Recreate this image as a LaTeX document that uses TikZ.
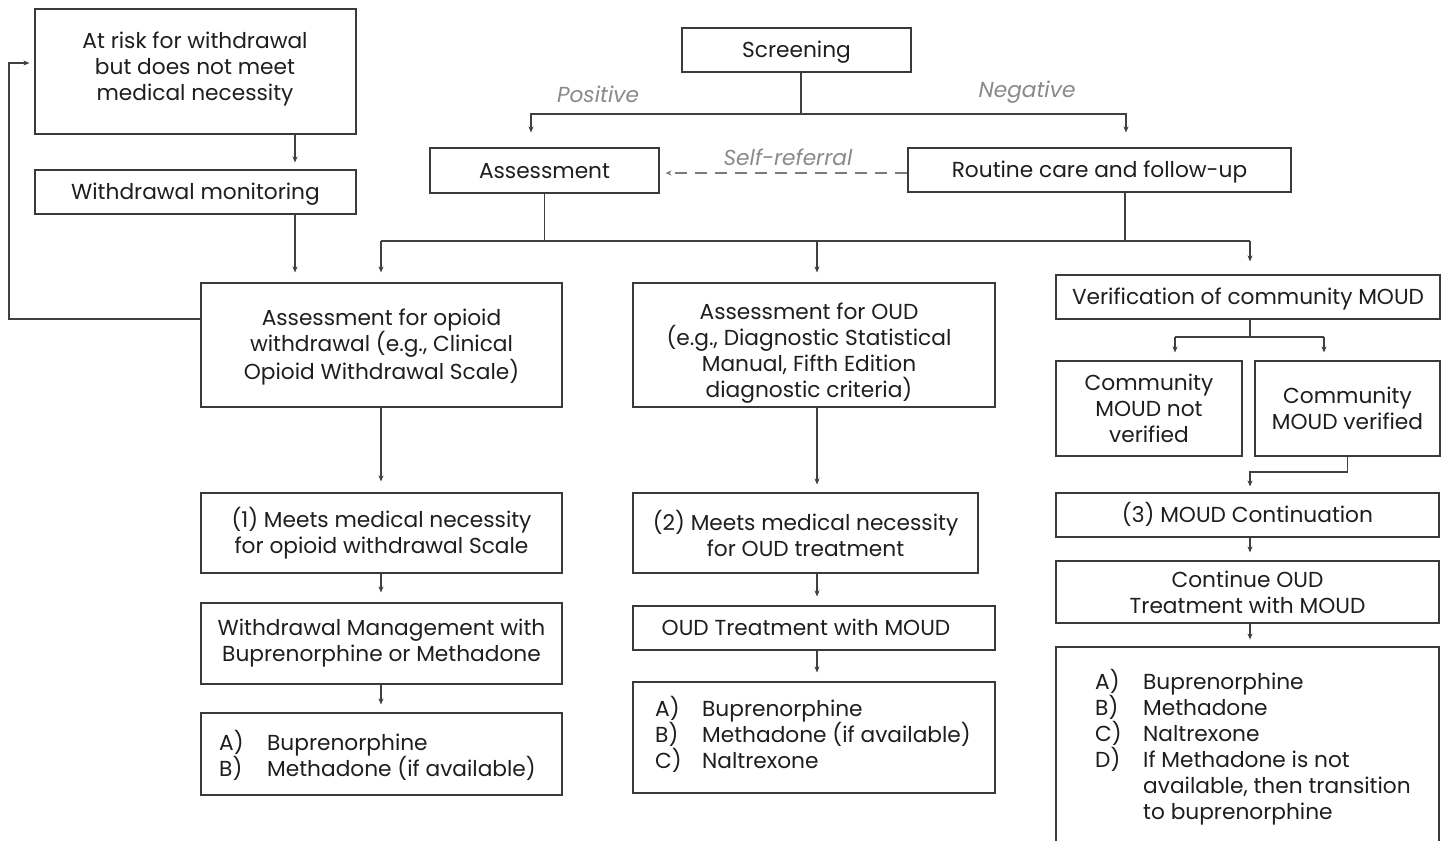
\documentclass[tikz,border=0pt]{standalone}
\usepackage{fontspec}
\setmainfont{Poppins}
\usetikzlibrary{arrows.meta,calc}
\definecolor{boxc}{HTML}{3A3A3A}
\definecolor{linec}{HTML}{404040}
\definecolor{txtc}{HTML}{1E1E1E}
\definecolor{grayc}{HTML}{8A8A8A}
\definecolor{dashc}{HTML}{7A7A7A}
\newcommand\mainsz{\fontsize{21.7}{26}\selectfont}
\newcommand\lab[2][48pt]{\makebox[#1][l]{#2}}
\tikzset{
  box/.style={draw=boxc, line width=1.1pt, inner sep=0pt, align=center, text=txtc, font=\mainsz},
  txt/.style={inner sep=0pt, align=center, text=txtc, font=\mainsz},
  sl/.style={text height=15pt, text depth=0pt},
  ln/.style={draw=linec, line width=1.1pt},
  arr/.style={ln, -{Stealth[length=6pt,width=5pt]}},
  lbl/.style={inner sep=0pt, font=\mainsz\itshape, text=grayc},
  dashln/.style={draw=dashc, line width=1.1pt, dash pattern=on 12pt off 8pt, -{Stealth[length=6pt,width=5pt]}},
}
\begin{document}
\begin{tikzpicture}[x=1pt,y=-1pt]
\useasboundingbox (0,0) rectangle (1444,841);
\clip (0,0) rectangle (1444,841);
\fill[white] (0,0) rectangle (1444,841);

% ---- boxes ----
\node[box, minimum width=321pt, minimum height=125pt] (risk) at (195.5,71.5) {};
\node[txt] (riskT) at (195,69) {At risk for withdrawal\\but does not meet\\medical necessity};
\node[box, sl, minimum width=321pt, minimum height=44pt] (mon) at (195.5,192) {Withdrawal monitoring};
\node[box, sl, minimum width=229pt, minimum height=44pt] (scr) at (796.5,50) {Screening};
\node[box, sl, minimum width=229pt, minimum height=45pt] (ass) at (544.5,170.5) {Assessment};
\node[box, sl, minimum width=383pt, minimum height=44pt] (rout) at (1099.5,170) {Routine care and follow-up};

\node[box, minimum width=361pt, minimum height=124pt] (aow) at (381.5,345) {};
\node[txt] (aowT) at (381.5,347) {Assessment for opioid\\withdrawal (e.g., Clinical\\Opioid Withdrawal Scale)};
\node[box, minimum width=362pt, minimum height=124pt] (aoud) at (814,345) {};
\node[txt] (aoudT) at (809,353.5) {Assessment for OUD\\(e.g., Diagnostic Statistical\\Manual, Fifth Edition\\diagnostic criteria)};
\node[box, sl, minimum width=384pt, minimum height=44pt] (ver) at (1248,297) {Verification of community MOUD};
\node[box, minimum width=186pt, minimum height=95pt] (cnv) at (1149,408.5) {Community\\MOUD not\\verified};
\node[box, minimum width=185pt, minimum height=95pt] (cv) at (1347.5,408.5) {Community\\MOUD verified};

\node[box, minimum width=361pt, minimum height=80pt] (m1) at (381.5,533) {(1) Meets medical necessity\\for opioid withdrawal Scale};
\node[box, minimum width=361pt, minimum height=81pt] (wm) at (381.5,643.5) {Withdrawal Management with\\Buprenorphine or Methadone};
\node[box, minimum width=361pt, minimum height=82pt] (l1) at (381.5,754) {};
\node[txt, anchor=west, align=left] (l1T) at (219,755) {\lab{A)}Buprenorphine\\ \lab{B)}Methadone (if available)};

\node[box, minimum width=345pt, minimum height=80pt] (m2) at (805.5,533) {(2) Meets medical necessity\\for OUD treatment};
\node[box, minimum width=362pt, minimum height=44pt] (oudt) at (814,628) {};
\node[txt, sl] (oudtT) at (806,628) {OUD Treatment with MOUD};
\node[box, minimum width=362pt, minimum height=111pt] (l2) at (814,737.5) {};
\node[txt, anchor=west, align=left] (l2T) at (655,734) {\lab[47pt]{A)}Buprenorphine\\ \lab[47pt]{B)}Methadone (if available)\\ \lab[47pt]{C)}Naltrexone};

\node[box, sl, minimum width=383pt, minimum height=44pt] (m3) at (1247.5,515) {(3) MOUD Continuation};
\node[box, minimum width=383pt, minimum height=62pt] (cont) at (1247.5,592) {Continue OUD\\Treatment with MOUD};
\node[box, minimum width=383pt, minimum height=240pt] (l3) at (1247.5,767) {};
\node[txt, anchor=west, align=left] (l3T) at (1095,747) {\lab{A)}Buprenorphine\\ \lab{B)}Methadone\\ \lab{C)}Naltrexone\\ \lab{D)}If Methadone is not\\ \lab{}available, then transition\\ \lab{}to buprenorphine};

% ---- labels ----
\node[lbl] (pos) at (598,94) {Positive};
\node[lbl] (neg) at (1027,92) {Negative};
\node[lbl] (self) at (788,157) {Self-referral};

% ---- coordinates ----
\coordinate (xL) at (295,0);
\coordinate (lp1) at (9,319);
\coordinate (lp2) at (9,63);
\coordinate (jS) at (801,114);
\coordinate (xA) at (531,0);
\coordinate (xR) at (1126,0);
\coordinate (yD) at (0,173);
\coordinate (bL) at (381,241);
\coordinate (bM) at (817,241);
\coordinate (bR) at (1250,241);
\coordinate (xR2) at (1125,241);
\coordinate (vL) at (1175,337);
\coordinate (vR) at (1324,337);
\coordinate (cvj) at (1250,472);
\coordinate (xM) at (817,0);

% ---- connectors ----
\draw[arr, shorten >=7pt] (risk.south -| xL) -- (mon.north -| xL);
\draw[arr, shorten >=10pt] (mon.south -| xL) -- (aow.north -| xL);
\draw[arr, shorten >=5pt] (aow.west |- lp1) -- (lp1) -- (lp2) -- (risk.west |- lp2);

\draw[ln] (scr.south -| jS) -- (jS);
\draw[arr, shorten >=15pt] (jS) -| (ass.north -| xA);
\draw[arr, shorten >=15pt] (jS) -| (rout.north -| xR);
\draw[dashln, shorten >=6pt] (rout.west |- yD) -- (ass.east |- yD);

\draw[ln] (ass.south) -- (ass.south |- bL);
\draw[ln] (rout.south -| xR2) -- (xR2);
\draw[ln] (bL) -- (bR);
\draw[arr, shorten >=10pt] (bL) -- (aow.north -| bL);
\draw[arr, shorten >=10pt] (bM) -- (aoud.north -| bM);
\draw[arr, shorten >=13pt] (bR) -- (ver.north -| bR);

\draw[ln] (ver.south -| bR) -- (bR |- vL);
\draw[ln] (vL) -- (vR);
\draw[arr, shorten >=8pt] (vL) -- (cnv.north -| vL);
\draw[arr, shorten >=8pt] (vR) -- (cv.north -| vR);
\draw[arr, shorten >=6pt] (cv.south) |- (cvj) -- (m3.north -| cvj);
\draw[arr, shorten >=8pt] (m3.south -| cvj) -- (cont.north -| cvj);
\draw[arr, shorten >=7pt] (cont.south -| cvj) -- (l3.north -| cvj);

\draw[arr, shorten >=11pt] (aow.south -| bL) -- (m1.north -| bL);
\draw[arr, shorten >=10pt] (m1.south -| bL) -- (wm.north -| bL);
\draw[arr, shorten >=8pt] (wm.south -| bL) -- (l1.north -| bL);

\draw[arr, shorten >=8pt] (aoud.south -| xM) -- (m2.north -| xM);
\draw[arr, shorten >=9pt] (m2.south -| xM) -- (oudt.north -| xM);
\draw[arr, shorten >=9pt] (oudt.south -| xM) -- (l2.north -| xM);
\end{tikzpicture}
\end{document}
